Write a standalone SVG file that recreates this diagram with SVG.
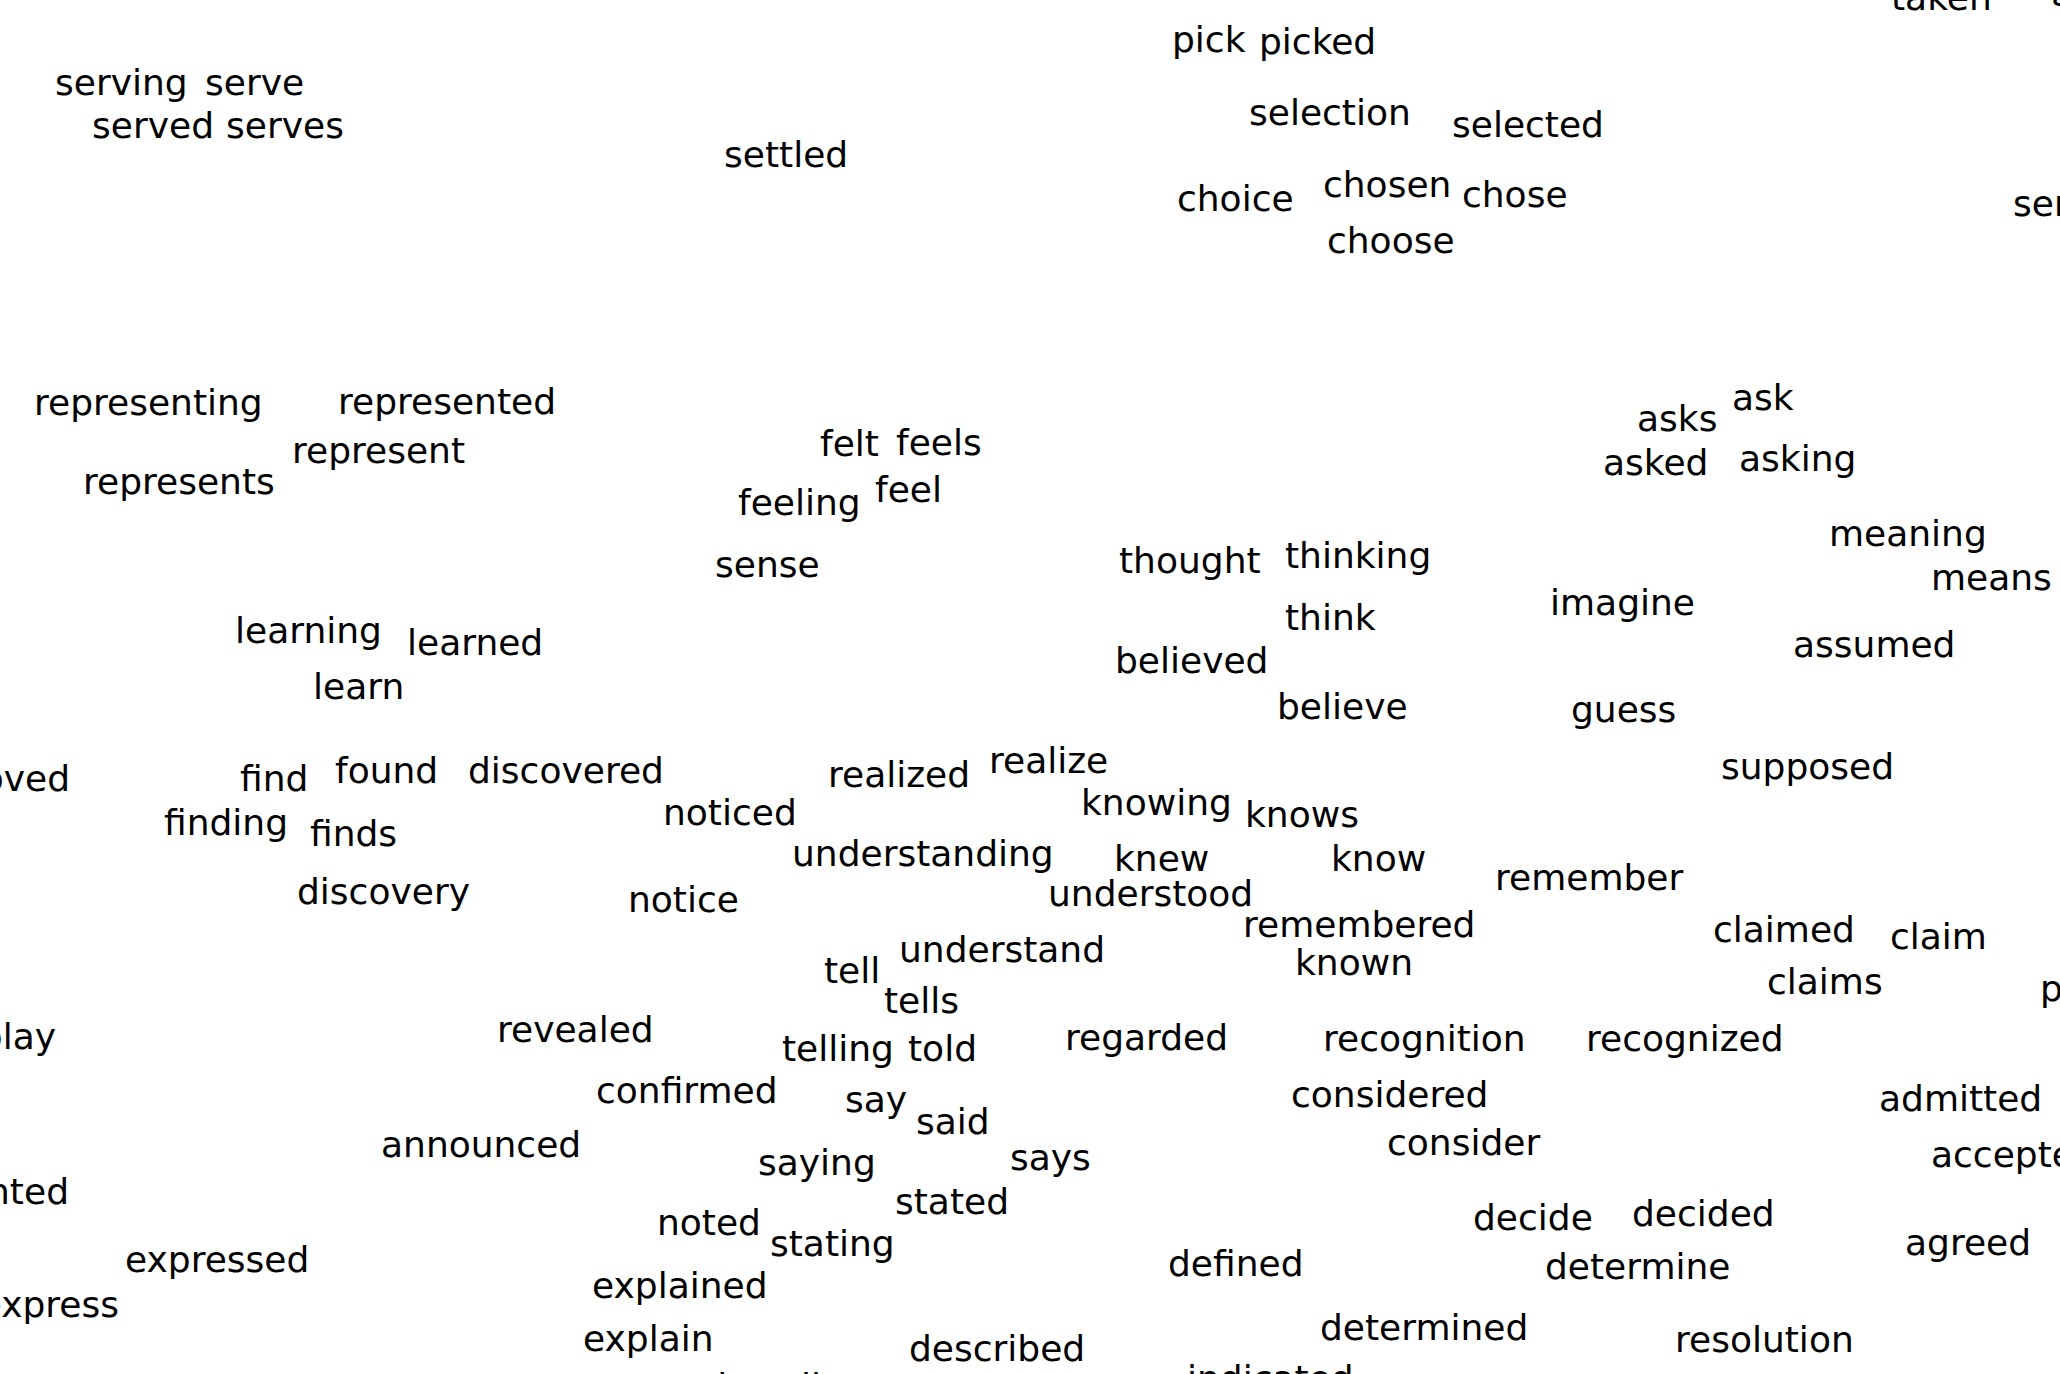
<svg xmlns="http://www.w3.org/2000/svg" width="2060" height="1374" viewBox="0 0 2060 1374">
<style>
text { font-family: "DejaVu Sans", "Liberation Sans", sans-serif; font-size: 36px; fill: #000; }
.e { text-anchor: end; }
</style>
<rect width="2060" height="1374" fill="#fff"/>
<g id="edge-words">
<text x="1891" y="10">taken</text>
<text x="2050" y="6">take</text>
<text x="696" y="1399">virtually</text>
<text x="1187" y="1391">indicated</text>
</g>
<g id="words" transform="translate(0,2.5)">
<text x="1172" y="49">pick</text>
<text x="1259" y="51">picked</text>
<text x="55" y="92">serving</text>
<text x="205" y="92">serve</text>
<text x="92" y="135">served</text>
<text x="226" y="135">serves</text>
<text x="724" y="164">settled</text>
<text x="1249" y="122">selection</text>
<text x="1452" y="134">selected</text>
<text x="1177" y="208">choice</text>
<text x="1323" y="194">chosen</text>
<text x="1462" y="204">chose</text>
<text x="1327" y="250">choose</text>
<text x="2013" y="213">service</text>
<text x="34" y="412">representing</text>
<text x="338" y="411">represented</text>
<text x="292" y="460">represent</text>
<text x="83" y="491">represents</text>
<text x="820" y="453">felt</text>
<text x="896" y="452">feels</text>
<text x="875" y="499">feel</text>
<text x="738" y="512">feeling</text>
<text x="715" y="574">sense</text>
<text x="1637" y="428">asks</text>
<text x="1732" y="407">ask</text>
<text x="1603" y="472">asked</text>
<text x="1739" y="468">asking</text>
<text x="1829" y="543">meaning</text>
<text x="1931" y="587">means</text>
<text x="1119" y="570">thought</text>
<text x="1285" y="565">thinking</text>
<text x="1285" y="627">think</text>
<text x="1550" y="612">imagine</text>
<text x="1793" y="654">assumed</text>
<text x="1115" y="670">believed</text>
<text x="1277" y="716">believe</text>
<text x="1571" y="719">guess</text>
<text x="235" y="640">learning</text>
<text x="407" y="652">learned</text>
<text x="313" y="696">learn</text>
<text x="1721" y="776">supposed</text>
<text class="e" x="70" y="788">proved</text>
<text x="240" y="788">find</text>
<text x="335" y="780">found</text>
<text x="468" y="780">discovered</text>
<text x="828" y="784">realized</text>
<text x="989" y="770">realize</text>
<text x="1081" y="812">knowing</text>
<text x="1245" y="824">knows</text>
<text x="164" y="832">finding</text>
<text x="310" y="843">finds</text>
<text x="663" y="822">noticed</text>
<text x="792" y="863">understanding</text>
<text x="1114" y="868">knew</text>
<text x="1331" y="868">know</text>
<text x="1495" y="887">remember</text>
<text x="297" y="901">discovery</text>
<text x="628" y="909">notice</text>
<text x="1048" y="903">understood</text>
<text x="1243" y="934">remembered</text>
<text x="1713" y="939">claimed</text>
<text x="1890" y="946">claim</text>
<text x="1295" y="972">known</text>
<text x="824" y="980">tell</text>
<text x="899" y="959">understand</text>
<text x="1767" y="991">claims</text>
<text x="2040" y="998">proposed</text>
<text x="884" y="1010">tells</text>
<text class="e" x="56" y="1046">play</text>
<text x="497" y="1039">revealed</text>
<text x="782" y="1058">telling</text>
<text x="908" y="1058">told</text>
<text x="1065" y="1047">regarded</text>
<text x="1323" y="1048">recognition</text>
<text x="1586" y="1048">recognized</text>
<text x="596" y="1100">confirmed</text>
<text x="845" y="1109">say</text>
<text x="916" y="1131">said</text>
<text x="1291" y="1104">considered</text>
<text x="1879" y="1108">admitted</text>
<text x="381" y="1154">announced</text>
<text x="758" y="1172">saying</text>
<text x="1010" y="1167">says</text>
<text x="1387" y="1152">consider</text>
<text x="1931" y="1164">accepted</text>
<text class="e" x="69" y="1201">presented</text>
<text x="895" y="1211">stated</text>
<text x="657" y="1232">noted</text>
<text x="1473" y="1227">decide</text>
<text x="1632" y="1223">decided</text>
<text x="1905" y="1252">agreed</text>
<text x="770" y="1253">stating</text>
<text x="125" y="1269">expressed</text>
<text x="1168" y="1273">defined</text>
<text x="1545" y="1276">determine</text>
<text x="592" y="1295">explained</text>
<text class="e" x="119" y="1314">express</text>
<text x="1320" y="1337">determined</text>
<text x="583" y="1348">explain</text>
<text x="1675" y="1349">resolution</text>
<text x="909" y="1358">described</text>
</g>
</svg>
